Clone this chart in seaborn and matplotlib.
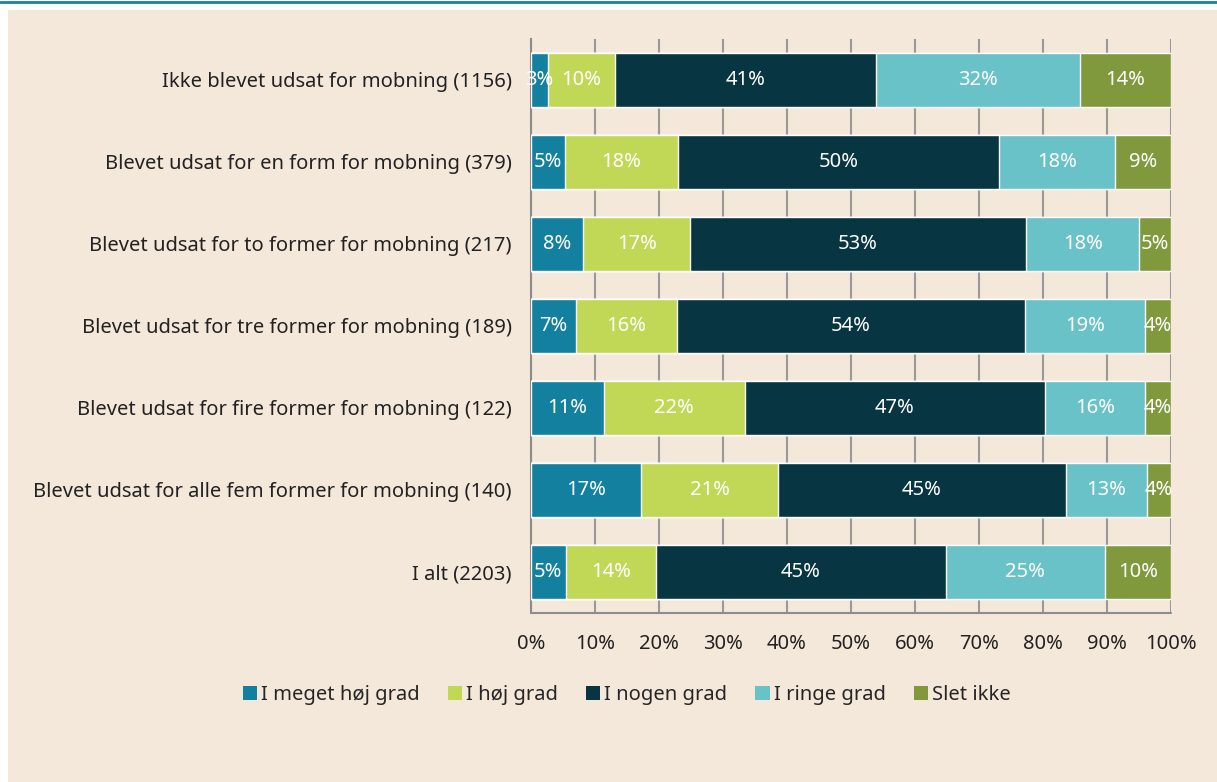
import numpy as np
import pandas as pd
import matplotlib.pyplot as plt
import matplotlib.ticker as mticker
from matplotlib.patches import Rectangle
from matplotlib.lines import Line2D
import seaborn as sns

# data
categories = [
    "Ikke blevet udsat for mobning (1156)",
    "Blevet udsat for en form for mobning (379)",
    "Blevet udsat for to former for mobning (217)",
    "Blevet udsat for tre former for mobning (189)",
    "Blevet udsat for fire former for mobning (122)",
    "Blevet udsat for alle fem former for mobning (140)",
    "I alt (2203)",
]
levels = ["I meget høj grad", "I høj grad", "I nogen grad", "I ringe grad", "Slet ikke"]
meget_hoej = [2.7, 5.3, 8.2, 7.0, 11.4, 17.2, 5.4]
hoej = [10.4, 17.7, 16.6, 15.8, 22.0, 21.4, 14.1]
nogen = [40.8, 50.2, 52.6, 54.4, 46.9, 45.0, 45.3]
ringe = [31.9, 18.1, 17.6, 18.7, 15.7, 12.6, 24.9]
slet_ikke = [14.2, 8.7, 5.0, 4.1, 4.0, 3.8, 10.3]
colors = ["#12809e", "#c0d856", "#073642", "#69c2c7", "#80993c"]

series = [meget_hoej, hoej, nogen, ringe, slet_ikke]
FS = 14.5
AXIS_GREY = "#8c8c8c"

sns.set_style("white")
plt.rcParams["font.family"] = ["Noto Sans", "DejaVu Sans"]
plt.rcParams["font.size"] = FS

fig = plt.figure(figsize=(12.17, 7.82), dpi=100)
fig.patch.set_facecolor("white")
# beige panel + teal top line
fig.patches.append(Rectangle((8 / 1217, 0), 1 - 8 / 1217, 1 - 10 / 782,
                             transform=fig.transFigure, facecolor="#f4e8db",
                             edgecolor="none", zorder=-10))
fig.lines.append(Line2D([0, 1], [1 - 1.5 / 782, 1 - 1.5 / 782], transform=fig.transFigure,
                        color="#1a8299", linewidth=2))

ax = fig.add_axes([531 / 1217, 1 - 613 / 782, 640 / 1217, 574 / 782])
ax.set_facecolor("none")

# cumulative stacking, draw from widest to narrowest
cum = np.cumsum(np.array(series), axis=0)
for i in range(len(levels) - 1, -1, -1):
    df = pd.DataFrame({"cat": categories, "val": cum[i]})
    sns.barplot(data=df, x="val", y="cat", orient="y", color=colors[i],
                width=0.67, saturation=1, ax=ax, zorder=3)

# segment labels
lefts = np.vstack([np.zeros(len(categories)), cum[:-1]])
for i in range(len(levels)):
    for j in range(len(categories)):
        v = series[i][j]
        ax.text(lefts[i][j] + v / 2, j, f"{v:.0f}%", ha="center", va="center",
                color="white", fontsize=FS, zorder=5)

ax.set_xlim(0, 100)
ax.set_ylim(6.5, -0.5)
ax.xaxis.set_major_locator(mticker.MultipleLocator(10))
ax.xaxis.set_major_formatter(mticker.FuncFormatter(lambda v, p: f"{v:.0f}%"))
ax.grid(axis="x", color="#999999", linewidth=1.5, zorder=0)
ax.set_axisbelow(True)
ax.set_xlabel("")
ax.set_ylabel("")

for s in ["top", "right", "bottom"]:
    ax.spines[s].set_visible(False)
ax.spines["left"].set_color(AXIS_GREY)
ax.spines["left"].set_linewidth(1.5)
# bottom axis line
ax.plot([0, 1], [0, 0], transform=ax.transAxes, color=AXIS_GREY, linewidth=1.5,
        clip_on=False, zorder=6)

ax.tick_params(axis="x", direction="out", length=8, width=1.5, color=AXIS_GREY,
               pad=7, labelsize=FS, labelcolor="#222222")
ax.set_yticks(range(len(categories)))
ax.set_yticklabels(categories)
ax.tick_params(axis="y", which="major", length=0, pad=14, labelsize=FS, labelcolor="#222222")
ax.set_yticks(np.arange(-0.5, len(categories), 1), minor=True)
ax.tick_params(axis="y", which="minor", direction="out", length=8, width=1.5, color=AXIS_GREY)

handles = [Rectangle((0, 0), 1, 1, facecolor=c, edgecolor="none") for c in colors]
fig.legend(handles, levels, loc="center", bbox_to_anchor=(0.515, 1 - 695 / 782),
           ncol=5, frameon=False, fontsize=FS, handlelength=0.7, handleheight=0.7,
           handletextpad=0.2, columnspacing=1.4)

fig.savefig("out.png", dpi=100, facecolor=fig.get_facecolor())
